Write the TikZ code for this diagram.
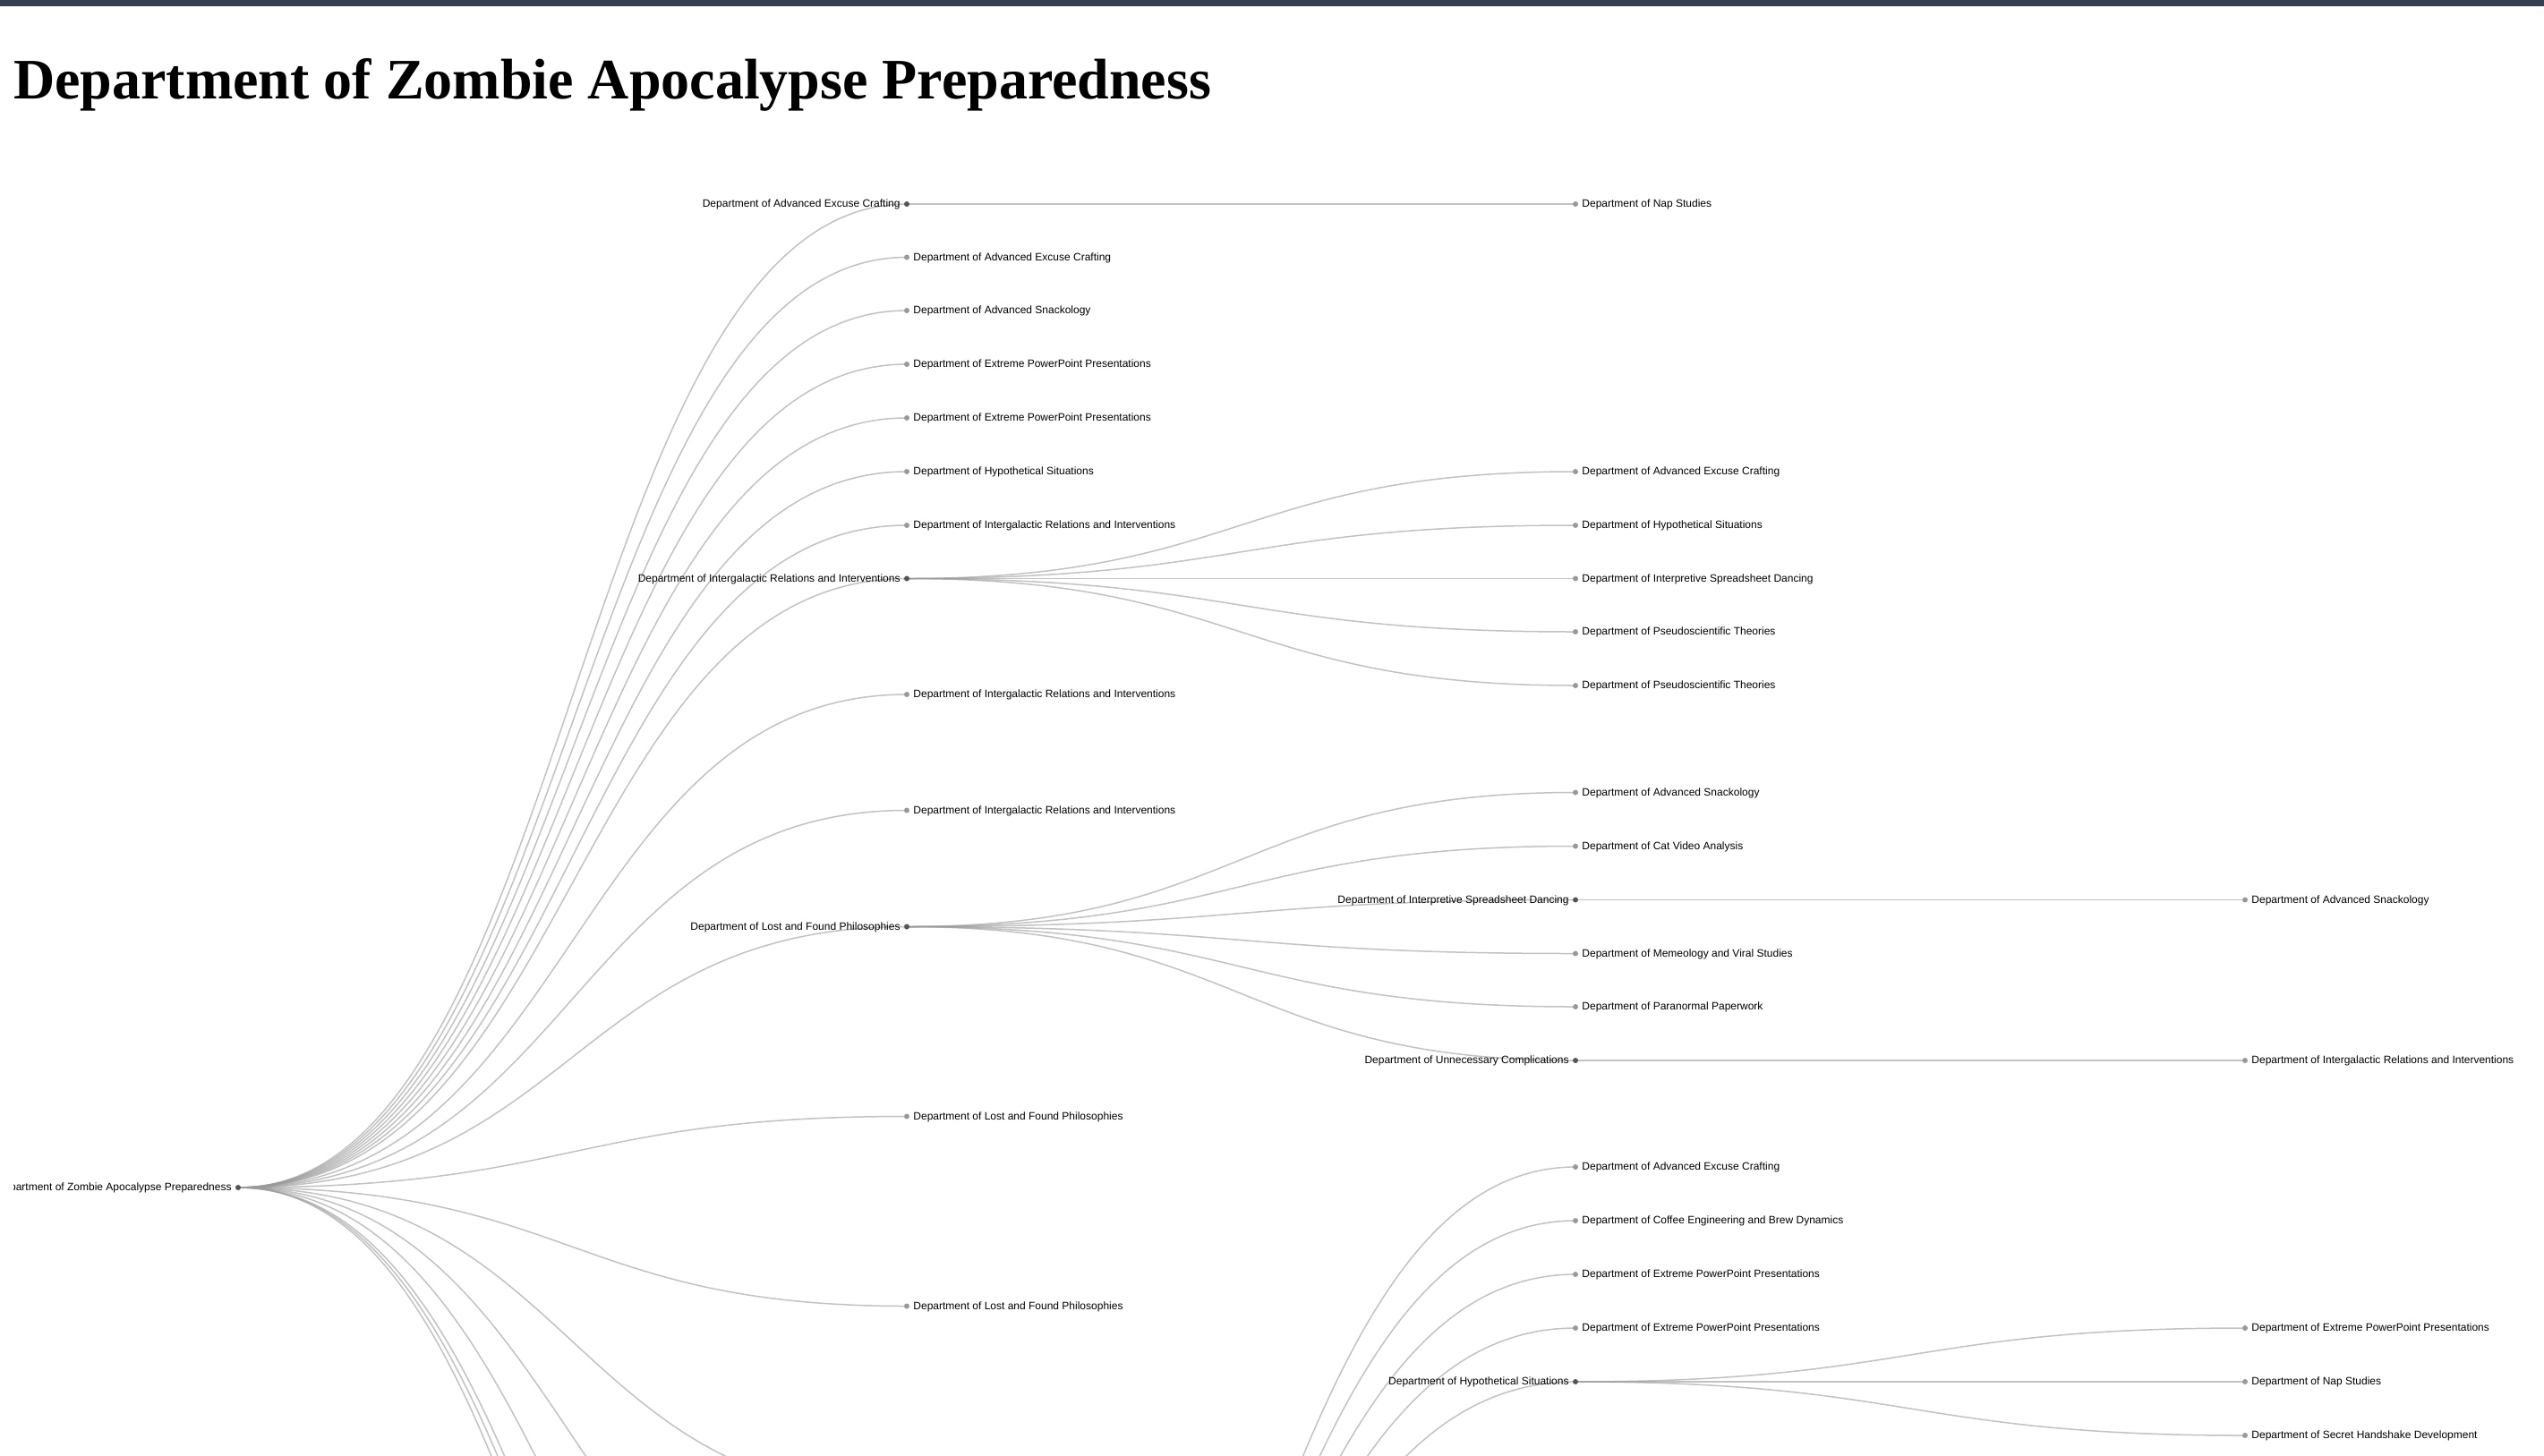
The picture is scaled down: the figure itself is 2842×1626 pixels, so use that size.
\documentclass[tikz,border=0pt]{standalone}
\usepackage{fontspec}
\setmainfont{Liberation Sans}
\newfontfamily\titlefont{Liberation Serif}
\usetikzlibrary{backgrounds}
\definecolor{barslate}{HTML}{34404F}
\definecolor{hubgray}{HTML}{555555}
\definecolor{leafgray}{HTML}{999999}

\begin{document}
\begin{tikzpicture}[
    x=1pt, y=-1pt,
    leaf/.style={circle, fill=leafgray, inner sep=0pt, minimum size=6pt},
    hub/.style={leaf, fill=hubgray},
    every label/.style={font=\fontsize{12}{12}\selectfont, inner sep=0pt, text height=7.4pt, text depth=0pt},
    label distance=4pt,
    link/.style={draw=leafgray, line width=1.5pt, opacity=0.6}
]
\useasboundingbox (0,0) rectangle (2842,1626);

% Header
\fill [barslate] (0,0) rectangle (2842,7);
\node (title) [anchor=base west, inner sep=0pt, font=\titlefont\bfseries\fontsize{64}{64}\selectfont] at (15,110) {Department of Zombie Apocalypse Preparedness};

\begin{scope}
\clip (15,0) rectangle (2842,1626);

% Root
\node (root) [hub, label=left:Department of Zombie Apocalypse Preparedness] at (266,1327) {};

% First level
\node (c1) [hub, label=left:Department of Advanced Excuse Crafting] at (1013,228) {};
\node (c2) [leaf, label=right:Department of Advanced Excuse Crafting] at (1013,287.5) {};
\node (c3) [leaf, label=right:Department of Advanced Snackology] at (1013,347) {};
\node (c4) [leaf, label=right:Department of Extreme PowerPoint Presentations] at (1013,407) {};
\node (c5) [leaf, label=right:Department of Extreme PowerPoint Presentations] at (1013,467) {};
\node (c6) [leaf, label=right:Department of Hypothetical Situations] at (1013,527) {};
\node (c7) [leaf, label=right:Department of Intergalactic Relations and Interventions] at (1013,587) {};
\node (c8) [hub, label=left:Department of Intergalactic Relations and Interventions] at (1013,646.5) {};
\node (c9) [leaf, label=right:Department of Intergalactic Relations and Interventions] at (1013,776) {};
\node (c10) [leaf, label=right:Department of Intergalactic Relations and Interventions] at (1013,905.5) {};
\node (c11) [hub, label=left:Department of Lost and Found Philosophies] at (1013,1035.5) {};
\node (c12) [leaf, label=right:Department of Lost and Found Philosophies] at (1013,1247.5) {};
\node (c13) [leaf, label=right:Department of Lost and Found Philosophies] at (1013,1459.5) {};
% below the page
\coordinate (c14) at (1013,1671);
\coordinate (c15) at (1013,1883);
\coordinate (c16) at (1013,2095);
\coordinate (c17) at (1013,2307);
\coordinate (c18) at (1013,2367);
\coordinate (c19) at (1013,2427);

% Second level
\node (n1) [leaf, label=right:Department of Nap Studies] at (1760,228) {};

\node (i1) [leaf, label=right:Department of Advanced Excuse Crafting] at (1760,527) {};
\node (i2) [leaf, label=right:Department of Hypothetical Situations] at (1760,587) {};
\node (i3) [leaf, label=right:Department of Interpretive Spreadsheet Dancing] at (1760,646.5) {};
\node (i4) [leaf, label=right:Department of Pseudoscientific Theories] at (1760,706) {};
\node (i5) [leaf, label=right:Department of Pseudoscientific Theories] at (1760,766) {};

\node (l1) [leaf, label=right:Department of Advanced Snackology] at (1760,885.5) {};
\node (l2) [leaf, label=right:Department of Cat Video Analysis] at (1760,945.5) {};
\node (l3) [hub, label=left:Department of Interpretive Spreadsheet Dancing] at (1760,1005.5) {};
\node (l4) [leaf, label=right:Department of Memeology and Viral Studies] at (1760,1065.5) {};
\node (l5) [leaf, label=right:Department of Paranormal Paperwork] at (1760,1125) {};
\node (l6) [hub, label=left:Department of Unnecessary Complications] at (1760,1185) {};

\node (p1) [leaf, label=right:Department of Advanced Excuse Crafting] at (1760,1304) {};
\node (p2) [leaf, label=right:Department of Coffee Engineering and Brew Dynamics] at (1760,1364) {};
\node (p3) [leaf, label=right:Department of Extreme PowerPoint Presentations] at (1760,1424) {};
\node (p4) [leaf, label=right:Department of Extreme PowerPoint Presentations] at (1760,1484) {};
\node (p5) [hub, label=left:Department of Hypothetical Situations] at (1760,1544) {};

% Third level
\node (l3a) [leaf, label=right:Department of Advanced Snackology] at (2508,1005.5) {};
\node (l6a) [leaf, label=right:Department of Intergalactic Relations and Interventions] at (2508,1185) {};
\node (p5a) [leaf, label=right:Department of Extreme PowerPoint Presentations] at (2508,1484) {};
\node (p5b) [leaf, label=right:Department of Nap Studies] at (2508,1544) {};
\node (p5c) [leaf, label=right:Department of Secret Handshake Development] at (2508,1604) {};
\end{scope}

% Links
\begin{scope}[on background layer]
\clip (15,0) rectangle (2842,1626);
\foreach \from/\to in {root/c1, root/c2, root/c3, root/c4, root/c5, root/c6, root/c7,
    root/c8, root/c9, root/c10, root/c11, root/c12, root/c13, root/c14, root/c15,
    root/c16, root/c17, root/c18, root/c19,
    c1/n1, c8/i1, c8/i2, c8/i3, c8/i4, c8/i5,
    c11/l1, c11/l2, c11/l3, c11/l4, c11/l5, c11/l6,
    c17/p1, c17/p2, c17/p3, c17/p4, c17/p5,
    l3/l3a, l6/l6a, p5/p5a, p5/p5b, p5/p5c}
  \draw [link] (\from.center) .. controls +(373.5,0) and +(-373.5,0) .. (\to.center);
\end{scope}

\end{tikzpicture}
\end{document}
